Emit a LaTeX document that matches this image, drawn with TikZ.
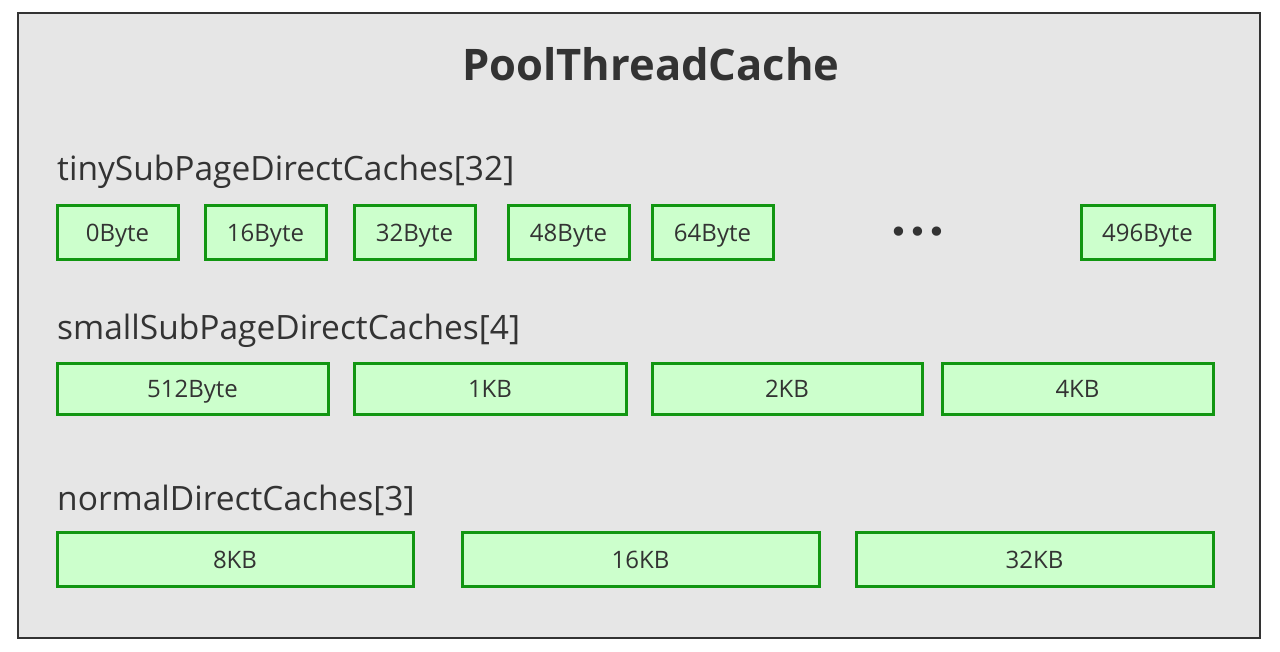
\documentclass[tikz,border=0pt]{standalone}
\usepackage{fontspec}
\setmainfont{Open Sans}
\newfontfamily\dotfont{DejaVu Sans}
\definecolor{cachegreen}{RGB}{17,150,17}
\definecolor{cachefill}{RGB}{204,255,204}
\definecolor{panelgray}{RGB}{230,230,230}
\definecolor{inkgray}{RGB}{51,51,51}
\begin{document}
\begin{tikzpicture}[x=1pt, y=-1pt,
  cachebox/.style={draw=cachegreen, fill=cachefill, line width=3pt, inner sep=0pt,
    text height=22pt, text depth=4pt, text=inkgray, font=\fontsize{24}{28}\selectfont},
  grouplabel/.style={anchor=base west, inner sep=0pt, text=inkgray, font=\fontsize{33.5}{38}\selectfont}]
\useasboundingbox (0,0) rectangle (1280,652);
% Outer panel
\draw[fill=panelgray, draw=inkgray, line width=2pt] (18,13) rectangle (1260,638);
\node[anchor=base, inner sep=0pt, text=inkgray, font=\bfseries\fontsize{43.5}{50}\selectfont] (title) at (651,81) {PoolThreadCache};

% Tiny sub page caches
\node[grouplabel] (tinylbl) at (57,181) {tinySubPageDirectCaches[32]};
\node[cachebox, minimum width=121pt, minimum height=54pt] (t0) at (117.5,232.5) {0Byte};
\node[cachebox, minimum width=121pt, minimum height=54pt] (t16) at (265.5,232.5) {16Byte};
\node[cachebox, minimum width=121pt, minimum height=54pt] (t32) at (414.5,232.5) {32Byte};
\node[cachebox, minimum width=121pt, minimum height=54pt] (t48) at (568.5,232.5) {48Byte};
\node[cachebox, minimum width=121pt, minimum height=54pt] (t64) at (712.5,232.5) {64Byte};
\node[text=inkgray, font=\dotfont\fontsize{32}{36}\selectfont] (tdots) at (918,235) {•••};
\node[cachebox, minimum width=133pt, minimum height=54pt] (t496) at (1147.5,232.5) {496Byte};

% Small sub page caches
\node[grouplabel] (smalllbl) at (57,340) {smallSubPageDirectCaches[4]};
\node[cachebox, minimum width=271pt, minimum height=51pt] (s512) at (192.5,388.5) {512Byte};
\node[cachebox, minimum width=272pt, minimum height=51pt] (s1k) at (490,388.5) {1KB};
\node[cachebox, minimum width=270pt, minimum height=51pt] (s2k) at (787,388.5) {2KB};
\node[cachebox, minimum width=271pt, minimum height=51pt] (s4k) at (1077.5,388.5) {4KB};

% Normal caches
\node[grouplabel] (normallbl) at (57,510) {normalDirectCaches[3]};
\node[cachebox, minimum width=356pt, minimum height=54pt] (n8k) at (235,559.5) {8KB};
\node[cachebox, minimum width=357pt, minimum height=54pt] (n16k) at (640.5,559.5) {16KB};
\node[cachebox, minimum width=357pt, minimum height=54pt] (n32k) at (1034.5,559.5) {32KB};
\end{tikzpicture}
\end{document}
